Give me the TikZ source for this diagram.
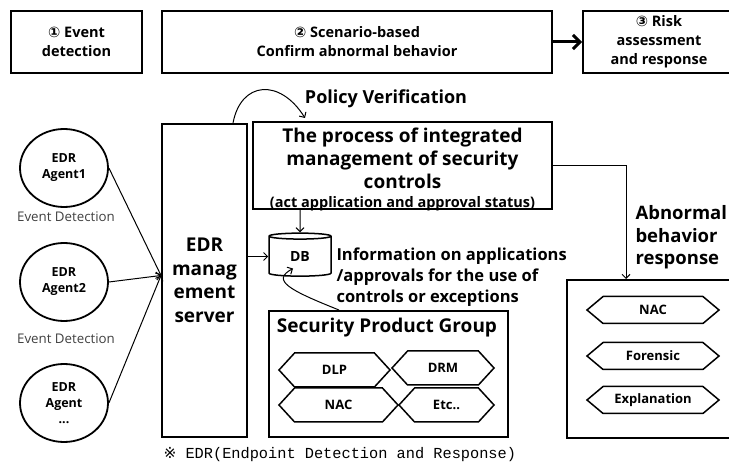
\documentclass[tikz,border=0pt]{standalone}
\usepackage{fontspec}
\setmainfont{Open Sans}
\newfontfamily\symfont{DejaVu Sans}
\newfontfamily\notefont{Liberation Mono}
\usetikzlibrary{arrows.meta,positioning,shapes.geometric,shapes.symbols,calc}
\tikzset{
  stepbox/.style={draw, line width=2pt, font=\fontsize{14.5}{19}\selectfont\bfseries,
                  align=center, inner sep=0pt},
  agent/.style={draw, ellipse, line width=1.8pt, minimum width=88pt, minimum height=78pt,
                font=\fontsize{12.5}{16}\selectfont\bfseries, align=center, inner sep=0pt},
  evtlabel/.style={font=\fontsize{13.3}{15}\selectfont, text=black!75},
  bigbox/.style={draw, line width=2pt, inner sep=0pt},
  hexa/.style={draw, signal, signal to=west and east, signal pointer angle=#1,
               line width=1.5pt, font=\fontsize{13}{15}\selectfont\bfseries, inner sep=0pt},
  flow/.style={-{Straight Barb[length=4pt,width=8pt]}, line width=1pt},
}

\begin{document}
\begin{tikzpicture}[x=1pt, y=-1pt]
\useasboundingbox (0,0) rectangle (729,462);

% Steps
\node[stepbox, minimum width=131pt, minimum height=62pt] (s1) at (76.5,42)
     {{\symfont ①} Event\\detection};
\node[stepbox, minimum width=390pt, minimum height=62pt] (s2) at (357,42)
     {{\symfont ②} Scenario-based\\Confirm abnormal behavior};
\node[stepbox, minimum width=152pt, minimum height=62pt] (s3) at (659,42)
     {{\symfont ③} Risk\\assessment\\and response};
\draw[-{Straight Barb[length=7pt,width=14pt]}, line width=3pt] (s2) -- (s3);

% Agents
\node[agent] (ag1) at (64,168) {EDR\\Agent1};
\node[agent] (ag2) at (64,282) {EDR\\Agent2};
\node[agent] (ag3) at (64,403) {EDR\\Agent\\...};
\node[evtlabel] (ev1) at (66,217) {Event Detection};
\node[evtlabel] (ev2) at (66,339) {Event Detection};

% EDR server
\node[bigbox, minimum width=85pt, minimum height=313pt, align=center,
      font=\fontsize{19}{23.5}\selectfont\bfseries] (srv) at (204.5,280.5)
      {EDR\\manag\\ement\\server};
\coordinate (hub) at ($(srv.west)+(0,-5)$);
\draw[flow] (ag1.east) -- (hub);
\draw[flow] (ag2.east) -- (hub);
\draw[flow] (ag3.east) -- (hub);

% Integrated management process
\node[bigbox, minimum width=299pt, minimum height=87pt] (proc) at (402.5,165.5) {};
\node[align=center, inner sep=0pt, font=\fontsize{19}{23}\selectfont\bfseries] (proct)
      at (402.5,169.5)
      {The process of integrated\\management of security\\controls\\[-4pt]
       \fontsize{14.5}{15}\selectfont(act application and approval status)};
\node[font=\fontsize{18}{20}\selectfont\bfseries] (pol) at (386,99) {Policy Verification};
\draw[flow] ($(srv.north east)+(-15,0)$) .. controls +(8,-42) and +(-25,-40)
      .. ($(proc.north west)+(53,-3)$);

% DB
\node[draw, cylinder, shape border rotate=90, aspect=0.3, line width=1.5pt,
      minimum width=62pt, minimum height=43pt, inner sep=0pt,
      font=\fontsize{14}{16}\selectfont\bfseries] (db) at (300,256.5) {DB};
\draw[flow] (proc.south -| db) -- (db);
\draw[flow] (srv.east |- db) -- (db);
\node[anchor=west, align=left, font=\fontsize{16.5}{21}\selectfont\bfseries] (info)
      at (333,277) {Information on applications\\/approvals for the use of\\controls or exceptions};

% Security products
\node[bigbox, minimum width=239pt, minimum height=126pt] (spg) at (388.5,374) {};
\node[font=\fontsize{19}{21}\selectfont\bfseries] (spgt) at (387,328) {Security Product Group};
\node[hexa=95, minimum width=111pt, minimum height=34pt] (dlp) at (334.5,370) {DLP};
\node[hexa=95, minimum width=102pt, minimum height=34pt] (drm) at (443,368) {DRM};
\node[hexa=95, minimum width=119pt, minimum height=34pt] (nac) at (338.5,405) {NAC};
\node[hexa=95, minimum width=95pt, minimum height=34pt] (etc) at (446.5,405) {Etc..};
\draw[flow] ($(spg.north west)+(71,0)$) .. controls +(-50,-20) and +(-22,12)
      .. ($(db.center)+(-7,12)$);

% Response
\node[bigbox, minimum width=168pt, minimum height=158pt] (resp) at (651,359) {};
\draw[flow] (proc.east) -| ($(resp.north west)+(60,0)$);
\node[anchor=west, align=left, font=\fontsize{18.5}{22.5}\selectfont\bfseries] (abn)
      at (632,237.5) {Abnormal\\behavior\\response};
\node[hexa=80, minimum width=132pt, minimum height=27pt, font=\fontsize{13}{15}\selectfont\bfseries]
      (rnac) at (653,310) {NAC};
\node[hexa=80, minimum width=132pt, minimum height=27pt, font=\fontsize{13}{15}\selectfont\bfseries]
      (rfor) at (653,356) {Forensic};
\node[hexa=80, minimum width=132pt, minimum height=27pt, font=\fontsize{13}{15}\selectfont\bfseries]
      (rexp) at (653,400) {Explanation};

% Note
\node[anchor=west, font=\fontsize{15.3}{17}\selectfont\notefont] (note) at (160,455)
      {{\symfont ※} EDR(Endpoint Detection and Response)};

\end{tikzpicture}
\end{document}
